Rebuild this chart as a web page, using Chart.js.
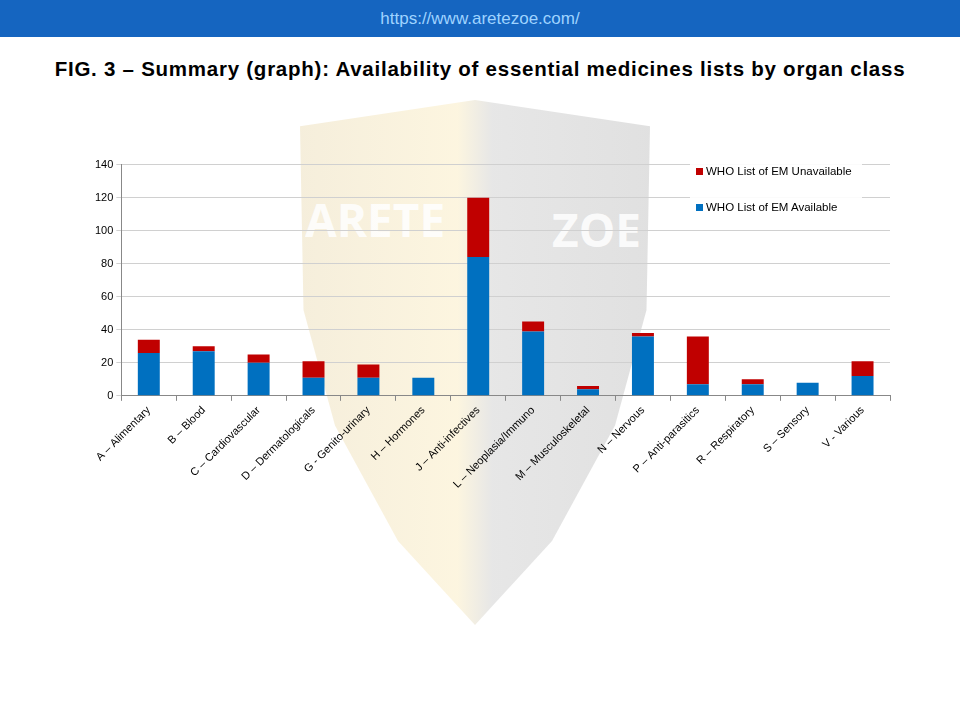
<!DOCTYPE html>
<html>
<head>
<meta charset="utf-8">
<script src="https://cdn.jsdelivr.net/npm/chart.js@4"></script>
<style>
  body { margin:0; width:960px; height:720px; background:#fff; font-family:"Liberation Sans", Arial, sans-serif; position:relative; overflow:hidden; }
  .bar { height:37px; background:#1565c0; color:#9fd3ff; text-align:center; font-size:17px; line-height:37px; }
  h1 { margin:0; position:absolute; top:57px; width:960px; text-align:center; font-size:20.5px; letter-spacing:0.75px; font-weight:bold; color:#000; }
  .shield { position:absolute; left:300px; top:100px; width:350px; height:525px; opacity:0.18;
    background:linear-gradient(90deg,#c9a13a 0%,#f0c850 45%,#777 55%,#555 100%);
    clip-path:polygon(0 5%,50% 0,100% 5%,99% 40%,90% 62%,72% 84%,50% 100%,28% 84%,10% 62%,1% 40%); }
  .wm { position:absolute; color:#fff; font-weight:bold; font-size:46px; font-family:"Open Sans",sans-serif; opacity:0.85; }
  #wrap { position:absolute; left:92px; top:155px; width:808px; height:339px; }
  .legend { position:absolute; left:690px; top:163px; background:rgba(255,255,255,0.9); font-size:11.5px; color:#000; padding:2px 10px 8px 6px; }
  .legend div { margin:0 0 24px 0; } .legend div:last-child{margin:0}
  .legend span { display:inline-block; width:7px; height:7px; margin-right:3px; }
</style>
</head>
<body>
<div class="bar">https://www.aretezoe.com/</div>
<h1>FIG. 3 – Summary (graph): Availability of essential medicines lists by organ class</h1>
<div class="shield"></div>
<div class="wm" style="left:305px;top:188px">ARETE</div>
<div class="wm" style="left:552px;top:198px">ZOE</div>
<div id="wrap"><canvas id="c"></canvas></div>
<div class="legend">
  <div><span style="background:#c00000"></span>WHO List of EM Unavailable</div>
  <div><span style="background:#0070c0"></span>WHO List of EM Available</div>
</div>
<script>
const categories = ['A – Alimentary','B – Blood','C – Cardiovascular','D – Dermatologicals','G - Genito-urinary','H – Hormones','J – Anti-infectives','L – Neoplasia/Immuno','M – Musculoskeletal','N – Nervous','P – Anti-parasitics','R – Respiratory','S – Sensory','V - Various'];
const available   = [26, 27, 20, 11, 11, 11, 84, 39, 4, 36, 7, 7, 8, 12];
const unavailable = [8, 3, 5, 10, 8, 0, 36, 6, 2, 2, 29, 3, 0, 9];
const yTicks = [0, 20, 40, 60, 80, 100, 120, 140];

new Chart(document.getElementById('c'), {
  type: 'bar',
  data: {
    labels: categories,
    datasets: [
      { label: 'WHO List of EM Available', data: available, backgroundColor: '#0070c0', barPercentage: 0.8, categoryPercentage: 0.5 },
      { label: 'WHO List of EM Unavailable', data: unavailable, backgroundColor: '#c00000', barPercentage: 0.8, categoryPercentage: 0.5 }
    ]
  },
  options: {
    responsive: true, maintainAspectRatio: false, animation: false,
    layout: { padding: { right: 10 } },
    plugins: { legend: { display: false }, tooltip: { enabled: false } },
    scales: {
      x: { stacked: true,
        grid: { display: true, drawOnChartArea: false, color: '#888', tickLength: 5, offset: true },
        border: { color: '#888' },
        ticks: { color: '#000', font: { size: 11, family: 'Liberation Sans' }, maxRotation: 45, minRotation: 45, autoSkip: false } },
      y: { stacked: true, min: 0, max: 140,
        afterBuildTicks: ax => { ax.ticks = yTicks.map(v => ({ value: v })); },
        grid: { color: '#d0d0d0', tickLength: 5 },
        border: { color: '#888' },
        ticks: { color: '#000', font: { size: 11, family: 'Liberation Sans' } } }
    }
  }
});
</script>
</body>
</html>
